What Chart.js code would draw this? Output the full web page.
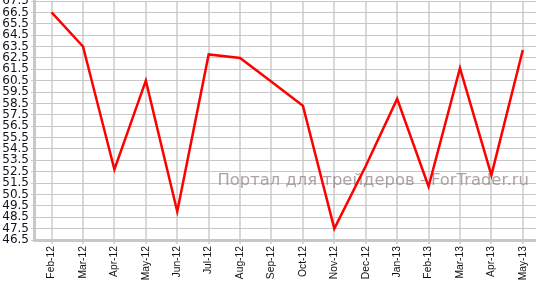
<!DOCTYPE html>
<html>
<head>
<meta charset="utf-8">
<script src="https://cdn.jsdelivr.net/npm/chart.js@4/dist/chart.umd.min.js"></script>
<style>
  html, body { margin: 0; padding: 0; background: #fff; }
  #wrap { width: 536px; height: 282px; position: relative; }
</style>
</head>
<body>
<div id="wrap"><canvas id="c" width="536" height="282"></canvas></div>
<script>
const categories = ["Feb-12","Mar-12","Apr-12","May-12","Jun-12","Jul-12","Aug-12","Sep-12","Oct-12","Nov-12","Dec-12","Jan-13","Feb-13","Mar-13","Apr-13","May-13"];
const values = [66.5, 63.5, 52.7, 60.5, 49.0, 62.8, 62.5, 60.4, 58.3, 47.5, 53.0, 58.9, 51.2, 61.6, 52.2, 63.2];
const yMin = 46.5, yMax = 67.5, yStep = 1;
const watermark = "Портал для трейдеров - ForTrader.ru";

const points = values.map((v, i) => ({ x: i, y: v }));

const watermarkPlugin = {
  id: 'wm',
  beforeDatasetsDraw(chart) {
    const ctx = chart.ctx;
    ctx.save();
    ctx.font = '16.4px "DejaVu Sans"';
    ctx.fillStyle = 'rgba(140,125,125,0.7)';
    ctx.textAlign = 'right';
    ctx.textBaseline = 'middle';
    ctx.fillText(watermark, 529, 181);
    ctx.restore();
  }
};

new Chart(document.getElementById('c'), {
  type: 'line',
  data: {
    datasets: [{
      data: points,
      borderColor: '#ff0000',
      borderWidth: 2.5,
      pointRadius: 0,
      tension: 0,
      fill: false
    }]
  },
  options: {
    responsive: false,
    animation: false,
    layout: { padding: { top: 1, left: 0, right: 0, bottom: 0 } },
    plugins: { legend: { display: false }, tooltip: { enabled: false } },
    scales: {
      x: {
        type: 'linear',
        min: -0.56,
        max: 15.42,
        afterBuildTicks(scale) {
          scale.ticks = categories.map((c, i) => ({ value: i }));
        },
        afterFit(scale) {
          scale.height = 42;
          scale.paddingLeft = 0; scale.paddingRight = 0;
        },
        ticks: {
          autoSkip: false,
          minRotation: 90,
          maxRotation: 90,
          padding: 2,
          color: '#111',
          font: { family: '"Liberation Sans", Arial', size: 10.3 },
          callback: (v) => categories[v] ?? ''
        },
        grid: { color: '#d9d9d9', lineWidth: 2, tickLength: 4, drawTicks: true },
        border: { color: '#c8c8c8', width: 3 }
      },
      y: {
        min: yMin,
        max: yMax,
        afterBuildTicks(scale) {
          const t = [];
          for (let v = yMin; v <= yMax + 1e-9; v += yStep) t.push({ value: Math.round(v * 10) / 10 });
          scale.ticks = t;
        },
        afterFit(scale) {
          scale.width = 34;
          scale.paddingTop = 0; scale.paddingBottom = 0;
        },
        ticks: {
          autoSkip: false,
          padding: 2,
          color: '#111122',
          font: { family: '"DejaVu Sans", Verdana', size: 12 },
          callback: (v) => v.toFixed(1)
        },
        grid: { color: '#c8c8c8', lineWidth: 1, tickLength: 3 },
        border: { color: '#c8c8c8', width: 3 }
      }
    }
  },
  plugins: [watermarkPlugin]
});
</script>
</body>
</html>
